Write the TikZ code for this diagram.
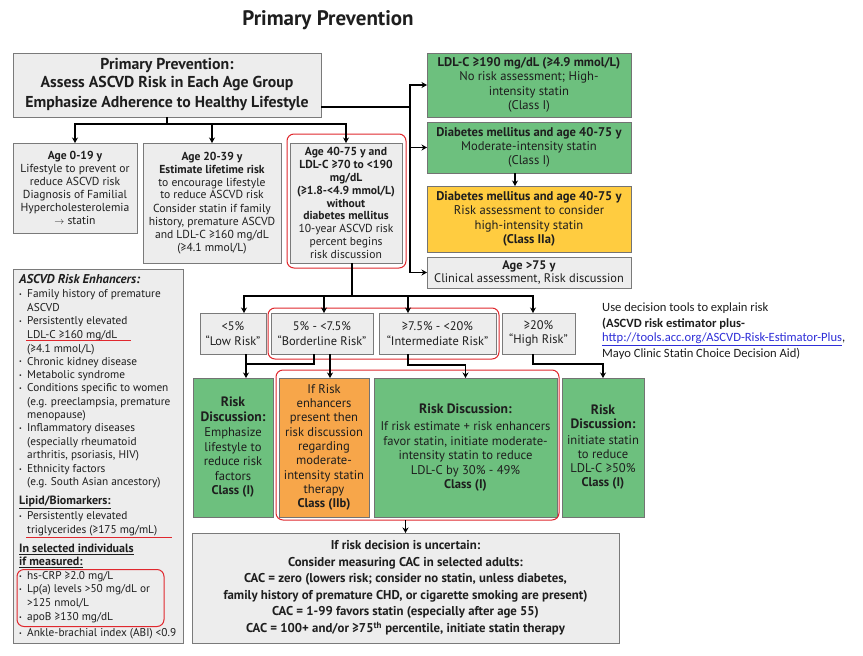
\documentclass[tikz,border=0pt]{standalone}
\usepackage{fontspec}
\setmainfont{PT Sans}
\newfontfamily\calfont{Carlito}
\usepackage{graphicx}
\usetikzlibrary{arrows.meta}
\definecolor{boxgray}{HTML}{EDEDED}
\definecolor{boxline}{HTML}{7A7A7A}
\definecolor{boxgreen}{HTML}{6DC07E}
\definecolor{boxorange}{HTML}{F7A64A}
\definecolor{boxyellow}{HTML}{FFCC40}
\definecolor{redc}{HTML}{E0282E}
\definecolor{txt}{HTML}{1E1E1E}
\definecolor{linkblue}{HTML}{2F2FD8}
\newcommand{\fsz}[2]{\fontsize{#1pt}{#2pt}\selectfont}
\newcommand{\bul}{\makebox[8pt][l]{\raisebox{0.25ex}{\fsz{6}{6}•}}}
\tikzset{
  base/.style={draw=boxline, line width=0.8pt, align=center, inner sep=1pt, outer sep=0pt, text=txt, font=\fsz{11.6}{12.9}},
  graybox/.style={base, fill=boxgray},
  greenbox/.style={base, fill=boxgreen, draw=black!55},
  orangebox/.style={base, fill=boxorange, draw=black!55},
  yellowbox/.style={base, fill=boxyellow, draw=black!55},
  redframe/.style={draw=redc, line width=1pt, rounded corners=7pt, inner sep=0pt, outer sep=0pt},
  eln/.style={anchor=west, inner sep=0pt, text=txt, font=\fsz{11.3}{12.8}},
  conn/.style={line width=1.6pt, black},
  arr/.style={conn, -{Stealth[length=5.5pt,width=6pt]}},
  side/.style={anchor=west, inner sep=0pt, text=txt, font=\calfont\fsz{12.6}{14}},
  redline/.style={draw=redc, line width=1pt},
}
\begin{document}
\begin{tikzpicture}[x=1pt,y=-1pt]
\useasboundingbox (0,0) rectangle (863,656);
\fill[white] (0,0) rectangle (863,656);

\node[inner sep=0pt, text=txt] (title) at (328,20) {\fsz{21}{24}\bfseries Primary Prevention};

% top box
\node[graybox, minimum width=308pt, minimum height=64pt, font=\fsz{15.8}{17.5}\bfseries] (top) at (167,85)
 {Primary Prevention:\\ Assess ASCVD Risk in Each Age Group\\[3pt] Emphasize Adherence to Healthy Lifestyle};

% right column
\node[greenbox, minimum width=204pt, minimum height=64pt, font=\fsz{12.6}{14.3}] (ldl) at (529,85)
 {\textbf{LDL-C ≥190 mg/dL (≥4.9 mmol/L)}\\ No risk assessment; High-\\ intensity statin\\ (Class I)};
\node[greenbox, minimum width=204pt, minimum height=51pt, font=\fsz{12.6}{14.3}] (dm1) at (529,147.5)
 {\textbf{Diabetes mellitus and age 40-75 y}\\ Moderate-intensity statin\\ (Class I)};
\node[yellowbox, minimum width=204pt, minimum height=66pt, font=\fsz{12.6}{14.3}] (dm2) at (529,219)
 {\textbf{Diabetes mellitus and age 40-75 y}\\ Risk assessment to consider\\ high-intensity statin\\ \textbf{(Class IIa)}};
\node[graybox, minimum width=204pt, minimum height=31pt, font=\fsz{12.4}{13.5}] (age75) at (529,272.5)
 {\textbf{Age >75 y}\\ Clinical assessment, Risk discussion};

% age boxes
\node[graybox, minimum width=124pt, minimum height=90pt] (a1) at (75,188)
 {\textbf{Age 0-19 y}\\ Lifestyle to prevent or\\ reduce ASCVD risk\\ Diagnosis of Familial\\ Hypercholesterolemia\\ {\fsz{10}{10}$\rightarrow$} statin};
\node[graybox, minimum width=138pt, minimum height=120pt] (a2) at (212,203)
 {\textbf{Age 20-39 y}\\ \textbf{Estimate lifetime risk}\\ to encourage lifestyle\\ to reduce ASCVD risk\\[1pt] Consider statin if family\\ history, premature ASCVD\\ and LDL-C ≥160 mg/dL\\ (≥4.1 mmol/L)};
\node[graybox, minimum width=112pt, minimum height=120pt] (a3) at (346,203)
 {\textbf{Age 40-75 y and}\\ \textbf{LDL-C ≥70 to <190}\\ \textbf{mg/dL}\\ \textbf{(≥1.8-<4.9 mmol/L)}\\ \textbf{without}\\ \textbf{diabetes mellitus}\\ 10-year ASCVD risk\\ percent begins\\ risk discussion};
\node[redframe, minimum width=119pt, minimum height=134pt] (fa3) at (346.5,201) {};

% risk enhancers
\node[graybox, minimum width=170pt, minimum height=374pt] (enh) at (98,456) {};
\node[eln, font=\fsz{12.8}{13}\bfseries\itshape] (e1) at (19,279) {ASCVD Risk Enhancers:};
\node[eln] (e2) at (19,295) {\bul Family history of premature};
\node[eln] (e3) at (27,308) {ASCVD};
\node[eln] (e4) at (19,322) {\bul Persistently elevated};
\node[eln] (e5) at (27,335.5) {LDL-C ≥160 mg/dL};
\node[eln] (e6) at (27,349.5) {(≥4.1 mmol/L)};
\node[eln] (e7) at (19,362.5) {\bul Chronic kidney disease};
\node[eln] (e8) at (19,376) {\bul Metabolic syndrome};
\node[eln] (e9) at (19,389) {\bul Conditions specific to women};
\node[eln] (e10) at (27,403) {(e.g. preeclampsia, premature};
\node[eln] (e11) at (27,416) {menopause)};
\node[eln] (e12) at (19,429) {\bul Inflammatory diseases};
\node[eln] (e13) at (27,443) {(especially rheumatoid};
\node[eln] (e14) at (27,456) {arthritis, psoriasis, HIV)};
\node[eln] (e15) at (19,470) {\bul Ethnicity factors};
\node[eln] (e16) at (27,483) {(e.g. South Asian ancestory)};
\node[eln, font=\fsz{12}{12.8}\bfseries] (e17) at (19,502) {\underline{Lipid/Biomarkers:}};
\node[eln] (e18) at (19,517) {\bul Persistently elevated};
\node[eln] (e19) at (27,530.5) {triglycerides (≥175 mg/mL)};
\node[eln, font=\fsz{12}{12.8}\bfseries] (e20) at (19,549) {\underline{In selected individuals}};
\node[eln, font=\fsz{12}{12.8}\bfseries] (e21) at (19,562) {\underline{if measured:}};
\node[eln] (e22) at (19,577) {\bul hs-CRP ≥2.0 mg/L};
\node[eln] (e23) at (19,590) {\bul Lp(a) levels >50 mg/dL or};
\node[eln] (e24) at (27,603) {>125 nmol/L};
\node[eln] (e25) at (19,618) {\bul apoB ≥130 mg/dL};
\node[eln] (e26) at (19,634) {\bul Ankle-brachial index (ABI) <0.9};
\draw[redline] ([shift={(-1,5)}]e5.west) -- ++(105,0);
\draw[redline] ([shift={(-1,6.5)}]e19.west) -- ++(146,0);
\node[redframe, minimum width=147pt, minimum height=57pt] (fe) at (90.5,598) {};

% risk category boxes
\node[graybox, minimum width=66pt, minimum height=41pt, font=\fsz{12.4}{14.7}] (r1) at (233,333.5) {<5\%\\ “Low Risk”};
\node[graybox, minimum width=102pt, minimum height=41pt, font=\fsz{12.4}{14.7}] (r2) at (322,333.5) {5\% - <7.5\%\\ “Borderline Risk”};
\node[graybox, minimum width=117pt, minimum height=41pt, font=\fsz{12.4}{14.7}] (r3) at (437.5,333.5) {≥7.5\% - <20\%\\ “Intermediate Risk”};
\node[graybox, minimum width=73pt, minimum height=41pt, font=\fsz{12.4}{14.7}] (r4) at (538.5,333.5) {≥20\%\\ “High Risk”};
\node[redframe, minimum width=231pt, minimum height=51pt] (fr) at (383.5,333.5) {};

% discussion boxes
\node[greenbox, minimum width=80pt, minimum height=139pt, font=\fsz{12.6}{14.5}] (d1) at (233,447.5)
 {\textbf{\fsz{13.6}{13.5}Risk}\\ \textbf{\fsz{13.6}{13.5}Discussion:}\\[1pt] Emphasize\\ lifestyle to\\ reduce risk\\ factors\\ \textbf{Class (I)}};
\node[orangebox, minimum width=90pt, minimum height=139pt, font=\fsz{12.6}{14.3}] (d2) at (324,447.5)
 {If Risk\\ enhancers\\ present then\\ risk discussion\\ regarding\\ moderate-\\ intensity statin\\ therapy\\ \textbf{Class (IIb)}};
\node[greenbox, minimum width=183pt, minimum height=139pt, font=\fsz{12.6}{14.5}] (d3) at (465.5,447.5)
 {\textbf{\fsz{13.6}{14}Risk Discussion:}\\[3pt] If risk estimate + risk enhancers\\ favor statin, initiate moderate-\\ intensity statin to reduce\\ LDL-C by 30\% - 49\%\\ \textbf{Class (I)}};
\node[greenbox, minimum width=82pt, minimum height=139pt, font=\fsz{12.6}{14}] (d4) at (603,447.5)
 {\textbf{\fsz{13.6}{13.5}Risk}\\ \textbf{\fsz{13.6}{13.5}Discussion:}\\[2pt] initiate statin\\ to reduce\\ LDL-C ≥50\%\\ \textbf{Class (I)}};
\node[redframe, minimum width=283pt, minimum height=150pt] (fd) at (417.5,445) {};

% CAC box
\node[graybox, minimum width=427pt, minimum height=110pt, font=\fsz{12.8}{16.5}\bfseries] (cac) at (405.5,588)
 {If risk decision is uncertain:\\ Consider measuring CAC in selected adults:\\ CAC = zero (lowers risk; consider no statin, unless diabetes,\\ family history of premature CHD, or cigarette smoking are present)\\ CAC = 1-99 favors statin (especially after age 55)\\ CAC = 100+ and/or ≥75\textsuperscript{th} percentile, initiate statin therapy};

% side text
\node[side] (s1) at (602,308) {Use decision tools to explain risk};
\node[side] (s2) at (602,324) {\textbf{(ASCVD risk estimator plus-}};
\node[side, text=linkblue] (s3) at (602,339) {\underline{http://tools.acc.org/ASCVD-Risk-Estimator-Plus}\textcolor{txt}{,}};
\node[side] (s4) at (602,354) {Mayo Clinic Statin Choice Decision Aid)};

% connectors
\coordinate (j1) at (167,124);
\draw[conn] (top.south) -- (j1);
\draw[arr] (j1) -| (a1.north);
\draw[arr] (j1) -| (a2.north);
\draw[arr] (j1) -| (a3.north);

\coordinate (j2) at (410,107);
\draw[conn] (top.east |- j2) -- (j2);
\draw[arr] (j2) |- (ldl.west);
\draw[arr] (j2) |- (dm1.west);
\draw[arr] (j2) |- (age75.west);
\coordinate (dmb) at ([xshift=-14pt]dm1.south);
\draw[arr] (dmb) -- (dmb |- dm2.north);

\coordinate (a3b) at ([xshift=6pt]a3.south);
\coordinate (j3) at (352,296);
\draw[conn] (a3b) -- (j3);
\draw[arr] (j3) -| ([xshift=11pt]r1.north);
\draw[arr] (j3) -| ([xshift=2pt]r2.north);
\draw[arr] (j3) -| ([xshift=-29.5pt]r3.north);
\draw[arr] (j3) -| ([xshift=-5.5pt]r4.north);

\coordinate (r1b) at ([xshift=13pt]r1.south);
\draw[arr] (r1b) -- (r1b |- d1.north);
\coordinate (j4) at (246,364);
\draw[conn] ([xshift=-8pt]r2.south) |- (j4);
\coordinate (r2b) at ([xshift=8pt]r2.south);
\draw[arr] (r2b) -- (r2b |- d2.north);
\coordinate (r3b) at ([xshift=-29.5pt]r3.south);
\coordinate (k3) at (440,365);
\draw[arr] (r3b) |- (k3) -| (d3.north);
\coordinate (r4b) at ([xshift=-5.5pt]r4.south);
\coordinate (k4) at (570,364);
\draw[arr] (r4b) |- (k4) -| (d4.north);
\draw[arr] (cac.north |- fd.south) -- (cac.north);
\end{tikzpicture}
\end{document}
